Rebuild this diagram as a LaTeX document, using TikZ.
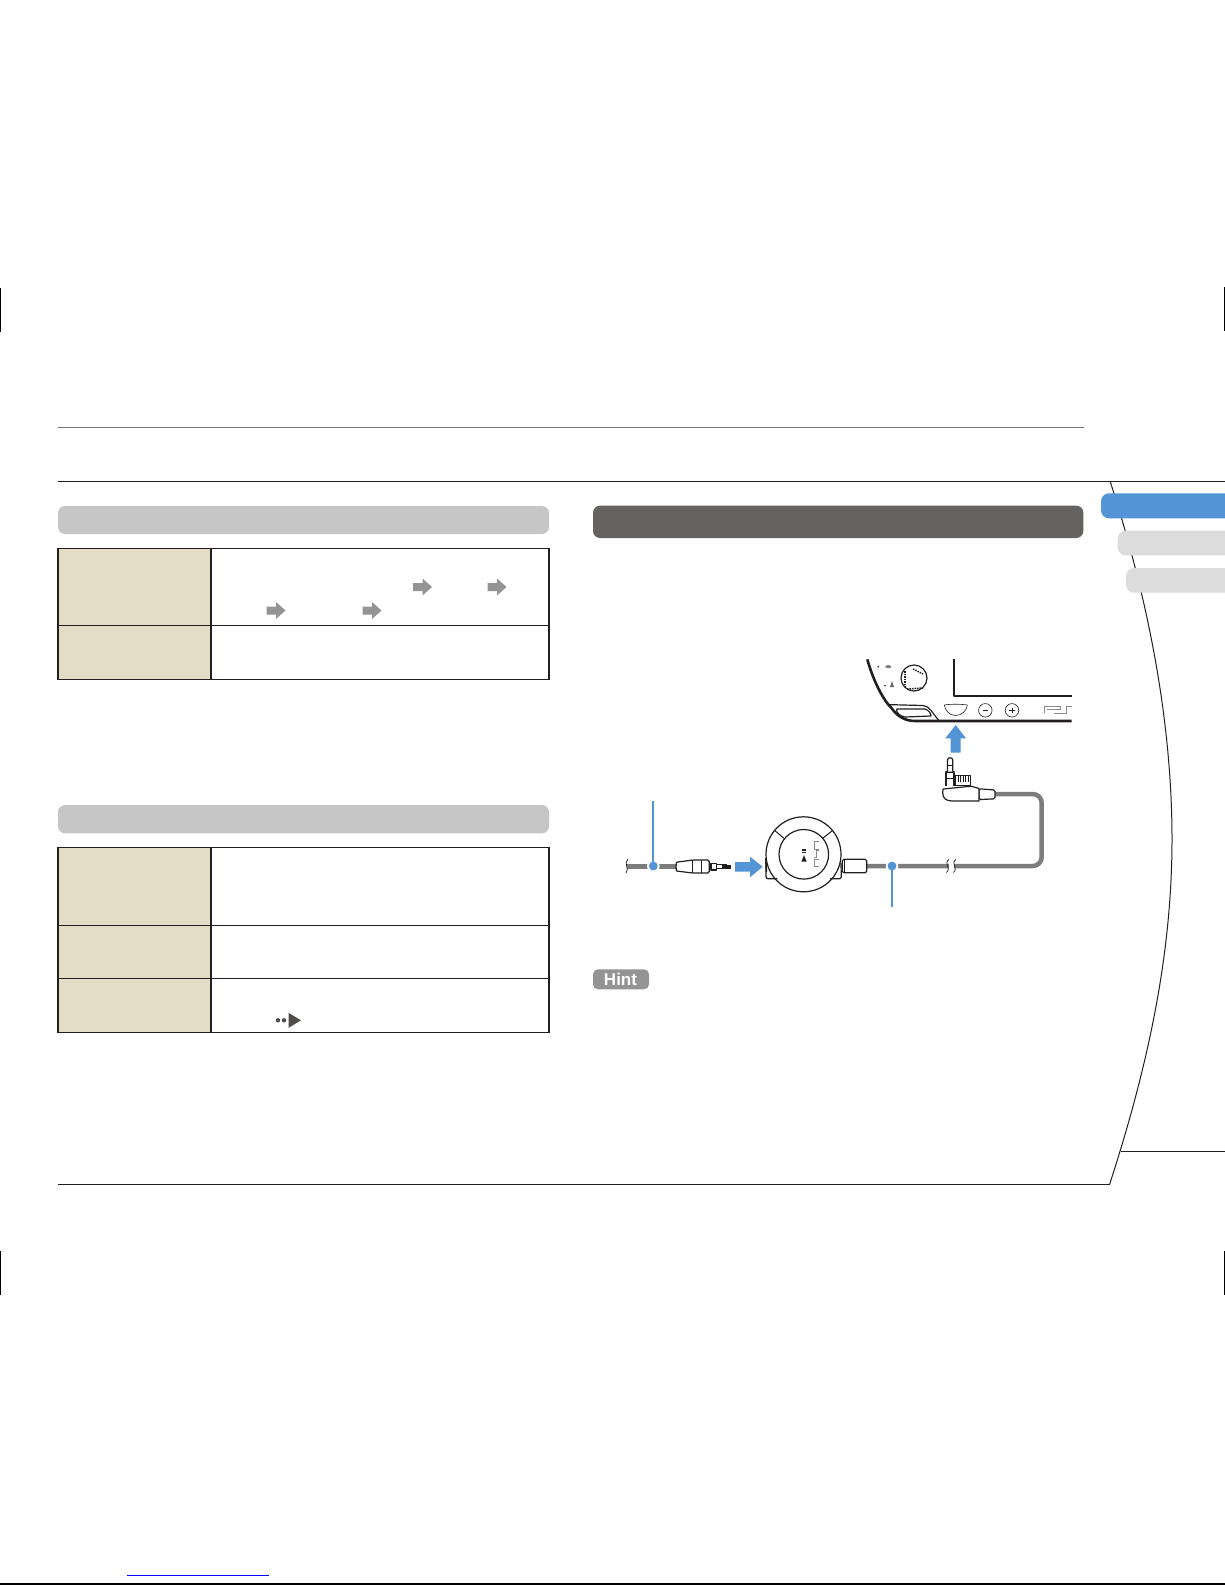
\documentclass[tikz,border=0pt]{standalone}
\usepackage{fontspec}
\setmainfont{Liberation Sans}
\definecolor{barGray}{HTML}{C6C6C6}
\definecolor{beige}{HTML}{E4DCC4}
\definecolor{ink}{HTML}{231F20}
\definecolor{psBlue}{HTML}{5294D6}
\definecolor{darkBar}{HTML}{656262}
\definecolor{tabGray}{HTML}{DCDCDC}
\definecolor{arrowGray}{HTML}{949494}
\definecolor{cable}{HTML}{7D7D7D}
\definecolor{logoGray}{HTML}{8A8A8A}
\tikzset{
  rule/.style={ink,line width=1.2pt},
  tbl/.style={ink,line width=1.1pt},
  head/.style={fill=barGray,rounded corners=7pt},
  cell/.style={fill=beige},
  tabshape/.style={rounded corners=8pt},
  cropmark/.style={black,line width=1.2pt},
  gline/.style={ink,line width=1.2pt,line join=round},
  cablestyle/.style={cable,line width=4.5pt},
  callout/.style={psBlue,line width=1.8pt},
  grayarrow/.style={fill=arrowGray},
  psplogo/.style={logoGray,line width=0.6pt},
}
\newcommand{\grayarr}[2]{\fill[grayarrow,shift={(#1,#2)}] (-9.5,-4) -- (0,-4) -- (0,-8.5) -- (9.5,0) -- (0,8.5) -- (0,4) -- (-9.5,4) -- cycle;}
\begin{document}
\begin{tikzpicture}[x=1pt,y=-1pt]
\useasboundingbox (0,0) rectangle (1225,1585);
\fill[white] (0,0) rectangle (1225,1585);
% crop marks
\draw[cropmark] (0.6,288) -- (0.6,332);
\draw[cropmark] (0.6,1251) -- (0.6,1295);
\draw[cropmark] (1224.4,287) -- (1224.4,331);
\draw[cropmark] (1224.4,1251) -- (1224.4,1295);
% page frame
\draw[black!55,line width=0.9pt] (58,427) -- (1084,427);
\draw[rule] (58,481.3) -- (1225,481.3);
\draw[rule] (58,1184.3) -- (1110,1184.3);
\draw[rule] (1121,1151.3) -- (1225,1151.3);
\draw[ink,line width=1pt] (1110,481) .. controls (1155,620) and (1172,740) .. (1172,839)
   .. controls (1172,950) and (1150,1060) .. (1109.6,1184.3);
% bottom lines
\draw[blue,line width=1.2pt] (127,1575.3) -- (269,1575.3);
\draw[black,line width=1.5pt] (0,1584) -- (1225,1584);
% side tabs
\fill[psBlue,tabshape] (1101,493.3) rectangle (1240,518.3);
\fill[tabGray,tabshape] (1117.7,530.7) rectangle (1240,555.3);
\fill[tabGray,tabshape] (1126,568) rectangle (1240,592.7);
% left section 1
\fill[head] (58,506) rectangle (549,534);
\fill[cell] (58,548.7) rectangle (211,679.3);
\draw[tbl] (58,548.7) rectangle (549,679.3);
\draw[tbl] (58,625.3) -- (549,625.3);
\draw[tbl] (211,548.7) -- (211,679.3);
\grayarr{422.5}{587}
\grayarr{497}{587}
\grayarr{276}{610.5}
\grayarr{372}{610.5}
% left section 2
\fill[head] (58,805) rectangle (549,833.3);
\fill[cell] (58,847.3) rectangle (211,1032.3);
\draw[tbl] (58,847.3) rectangle (549,1032.3);
\draw[tbl] (58,925.3) -- (549,925.3);
\draw[tbl] (58,978.3) -- (549,978.3);
\draw[tbl] (211,847.3) -- (211,1032.3);
\fill[ink!80] (278,1020.3) circle (2.2);
\fill[ink!80] (284,1020.3) circle (2.2);
\fill[ink!80] (288.5,1012.8) -- (301,1020.3) -- (288.5,1027.8) -- cycle;
% right section heading
\fill[darkBar,rounded corners=7pt] (593,505.7) rectangle (1083.3,538);
% PSP console
\draw[ink,line width=2.6pt] (867.3,659.3) .. controls (873,680) and (883,700) .. (891.7,708.3)
   .. controls (897,716) and (905,721) .. (915,721) -- (1071.7,721);
\draw[gline] (888.3,704.6) -- (923,705.5) .. controls (930,706) and (932,713) .. (939,720.5);
\draw[gline] (896.7,709) -- (925,709) .. controls (929,710) and (931,714) .. (931,716)
   -- (905,717) .. controls (899,716) and (896,712) .. (896.7,709);
\draw[gline] (914,678) circle (13);
\draw[ink,line width=1.5pt,densely dotted] (905,671) -- (905,687);
\draw[ink,line width=1.5pt,densely dotted] (907,689) -- (923,688);
\draw[ink,line width=1.5pt,densely dotted] (913,669) -- (923,674);
\fill[ink] (878.3,666.7) circle (0.9);
\fill[gray] (888.3,666.7) ellipse (3 and 1.6);
\fill[ink] (885,685.7) circle (0.9);
\fill[gray!80!black] (890,687) -- (892,681) -- (894,687) -- cycle;
\draw[gline] (954,659) -- (954,696) -- (1071.7,696);
\draw[ink,line width=0.6pt] (944.3,705) .. controls (950,704) and (961,704) .. (967.3,705)
   .. controls (967,710) and (962,715.5) .. (955.7,715.5) .. controls (949,715.5) and (945,710) .. (944.3,705);
\node[draw=ink,circle,line width=0.6pt,minimum size=13.5pt,inner sep=0pt] (minusbtn) at (985.3,710.3) {};
\draw[ink,line width=0.6pt] (982.5,710.3) -- (988,710.3);
\node[draw=ink,circle,line width=0.6pt,minimum size=13.5pt,inner sep=0pt] (plusbtn) at (1012,710.3) {};
\draw[ink,line width=0.6pt] (1009,710.3) -- (1015,710.3) (1012,707.5) -- (1012,713);
\draw[psplogo] (1044,713.3) -- (1044,706.5) -- (1060,706.5) -- (1060,709.5) -- (1047,709.5);
\draw[psplogo] (1054,713.3) -- (1066,713.3) -- (1066,706.5) -- (1071.7,706.5);
% blue arrows
\fill[psBlue] (950.7,752.7) -- (950.7,738.3) -- (945.3,738.3) -- (955.7,725) -- (966,738.3) -- (960.7,738.3) -- (960.7,752.7) -- cycle;
\fill[psBlue] (735,862) -- (750,862) -- (750,856.7) -- (762.7,866.7) -- (750,877.3) -- (750,871.6) -- (735,871.6) -- cycle;
% cables
\coordinate (cableL) at (653.3,866);
\coordinate (cableR) at (892,866);
\draw[cablestyle] (627,866.3) -- (676,866.3);
\draw[cablestyle,rounded corners=9pt] (866.7,866) -- (1041.7,866) -- (1041.7,794) -- (995,794);
\fill[white] (948.5,860) rectangle (954,872);
\draw[ink,line width=0.7pt] (949,859.3) .. controls (943,864) and (952,868) .. (946.3,872.5);
\draw[ink,line width=0.7pt] (956,859.3) .. controls (950,864) and (959,868) .. (953.3,872.5);
\draw[ink,line width=0.7pt] (628,859) .. controls (623,863) and (630,869) .. (626,873);
% callouts
\fill[white] (cableL) circle (6.3);
\fill[white] (cableR) circle (6.3);
\draw[callout] (653.3,801) -- (cableL);
\draw[callout] (cableR) -- (892,907);
\fill[psBlue] (cableL) circle (4.4);
\fill[psBlue] (cableR) circle (4.4);
% left plug
\draw[gline,fill=white,rounded corners=1.5pt] (676.5,862.2) -- (692.7,860) -- (709.3,860) -- (709.3,873) -- (692.7,873) -- (676.5,871);
\draw[gline] (676.5,862.2) -- (676,867) -- (676.5,871);
\draw[ink,line width=1pt] (692.7,860) -- (692.7,873) (701,860) -- (701,873);
\draw[gline] (711,863.2) rectangle (716.3,870);
\draw[ink,line width=1pt] (716.3,864.5) -- (727,864.5) (716.3,868.5) -- (727,868.5);
\fill[ink] (722,864.5) rectangle (731,868.5);
% remote disc
\draw[gline,fill=white] (803.5,854.3) circle (37.5);
\draw[gline] (803.8,854.3) circle (24.8);
\draw[ink,line width=1pt] (775,830.7) -- (784,838.3) (832.3,830.7) -- (822.7,838.3);
\draw[gline,rounded corners=2pt] (766,860) -- (766,878.7) -- (777.3,878.7);
\draw[ink,line width=1.6pt] (765.8,858) -- (766.4,872);
\draw[gline,rounded corners=2pt] (841,863) -- (841.3,878.7) -- (830,878.7);
\fill[ink] (801.7,849.3) rectangle (806,850.6);
\fill[ink] (801.7,851.6) rectangle (806,852.9);
\fill[ink] (804,855) -- (806.6,861.7) -- (801.4,861.7) -- cycle;
\draw[psplogo] (819,841.7) -- (814.3,841.7) -- (814.3,849) -- (819,849);
\draw[psplogo] (819,850.5) -- (816.5,850.5) -- (816.5,857.5) -- (814.3,857.5);
\draw[psplogo] (819,866.7) -- (814.3,866.7) -- (814.3,859.3) -- (819,859.3);
% right strain relief
\draw[gline,fill=white,rounded corners=1.5pt] (842.3,859.3) rectangle (866.7,872.7);
\draw[ink,line width=0.9pt] (844.8,859.6) -- (844.8,872.4);
% L plug
\draw[gline,fill=white,rounded corners=1.5pt] (979,788.8) -- (995,790) -- (995,798.8) -- (979,799.6) -- cycle;
\draw[gline,fill=white] (943,789) -- (971,786.2) -- (979,788.4) -- (979,801) -- (952,801)
   .. controls (946,801) and (942.7,798) .. (942.7,793) -- cycle;
\draw[gline,fill=white] (946,786) -- (946,772) -- (954,772) -- (954,786);
\draw[ink,line width=1pt] (946,778) -- (954,778);
\fill[ink] (946,771) rectangle (954,773);
\draw[gline,fill=white] (947.5,771.5) -- (947.5,760) .. controls (947.5,757) and (952.7,757) .. (952.7,760) -- (952.7,771.5);
\draw[ink,line width=1pt] (947.5,765) -- (952.7,765);
\draw[gline,fill=white] (955,775.2) rectangle (970.7,785.7);
\foreach \hx in {958,960.5,963,965.5,968}{\draw[ink,line width=0.7pt] (\hx,775.5) -- (\hx,782);}
% hint
\fill[arrowGray,rounded corners=5pt] (593,969.3) rectangle (649,989.3);
\node[text=white,font=\bfseries\fontsize{17}{17}\selectfont,inner sep=0pt,anchor=center] (hint) at (620.5,979.5) {Hint};
\end{tikzpicture}
\end{document}
